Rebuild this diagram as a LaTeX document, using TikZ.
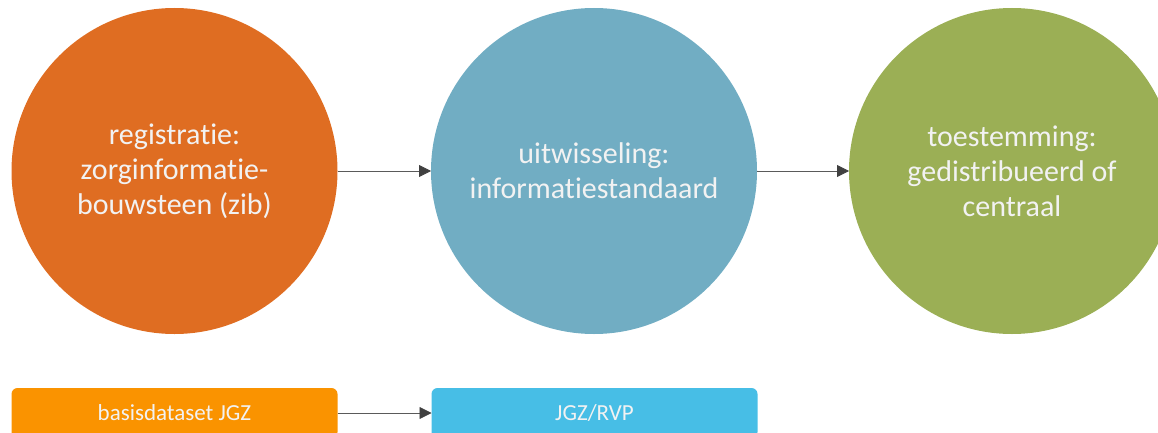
\documentclass[tikz,border=0pt]{standalone}
\usepackage{fontspec}
\setmainfont{Carlito}[Ligatures=NoCommon]
\usetikzlibrary{arrows.meta}
\definecolor{regorange}{HTML}{DF6D22}
\definecolor{uitblue}{HTML}{71ADC3}
\definecolor{toegreen}{HTML}{9BAF55}
\definecolor{jgzorange}{HTML}{FA9300}
\definecolor{rvpblue}{HTML}{47BEE6}
\definecolor{linkgray}{HTML}{5A5A5A}
\begin{document}
\begin{tikzpicture}[x=1pt,y=-1pt,inner sep=0pt,outer sep=0pt,
phase/.style={circle,minimum size=326pt,align=center,text=white!95!black,font=\fontsize{30}{35}\selectfont},
datablock/.style={rectangle,rounded corners=6pt,minimum width=326pt,minimum height=50pt,text=white!95!black,font=\fontsize{23}{26}\selectfont},
link/.style={draw=linkgray,line width=0.8pt},
>={Triangle[length=12pt,width=12pt,color=black!75]}]

\clip (0,0) rectangle (1158,433);

\draw (174.5,171) node[phase,fill=regorange] (reg) {registratie:\\zorginformatie-\\bouwsteen (zib)};
\draw (594,171) node[phase,fill=uitblue] (uit) {uitwisseling:\\informatiestandaard};
\draw (1012,171) node[phase,fill=toegreen] (toe) {toestemming:\\gedistribueerd of\\centraal};

\draw (174.5,413) node[datablock,fill=jgzorange] (bds) {basisdataset JGZ};
\draw (594.5,413) node[datablock,fill=rvpblue] (rvp) {JGZ/RVP};

\draw[link,->] (reg) -- (uit);
\draw[link,->] (uit) -- (toe);
\draw[link,->] (bds) -- (rvp);
\end{tikzpicture}
\end{document}
